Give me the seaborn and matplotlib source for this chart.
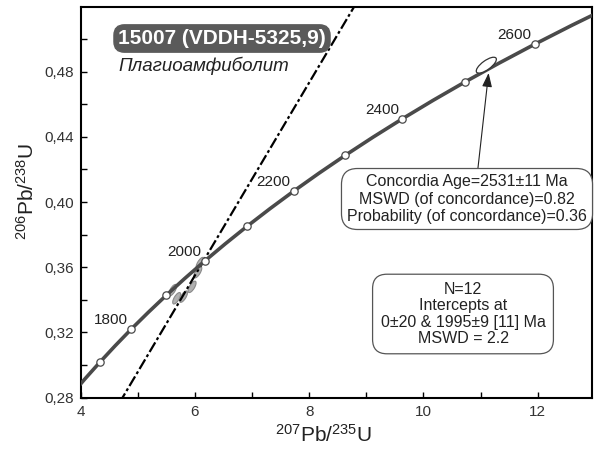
import numpy as np
import pandas as pd
import matplotlib
matplotlib.use("Agg")
import matplotlib.pyplot as plt
import seaborn as sns
from matplotlib.patches import Ellipse
from matplotlib.transforms import ScaledTranslation, IdentityTransform

# ---------------- data ----------------
# Concordia curve points (207Pb/235U, 206Pb/238U), every 50 Ma from 1600 to 2700 Ma
conc_x = [3.8346, 4.0784, 4.3348, 4.6040, 4.8869, 5.1840, 5.4962, 5.8241, 6.1685,
          6.5304, 6.9104, 7.3097, 7.7292, 8.1698, 8.6326, 9.1188, 9.6296, 10.1661,
          10.7297, 11.3218, 11.9437, 12.5971, 13.2834]
conc_y = [0.28172, 0.29170, 0.30174, 0.31189, 0.32213, 0.33240, 0.34277, 0.35323,
          0.36377, 0.37439, 0.38509, 0.39587, 0.40674, 0.41769, 0.42873, 0.43986,
          0.45107, 0.46237, 0.47375, 0.48523, 0.49679, 0.50845, 0.52020]

# Age markers on concordia
marker_age = [1700, 1800, 1900, 2000, 2100, 2200, 2300, 2400, 2500, 2600]
marker_x = [4.3348, 4.8869, 5.4962, 6.1685, 6.9104, 7.7292, 8.6326, 9.6296, 10.7297, 11.9437]
marker_y = [0.30174, 0.32213, 0.34277, 0.36377, 0.38509, 0.40674, 0.42873, 0.45107, 0.47375, 0.49679]
labelled_ages = [1800, 2000, 2200, 2400, 2600]

# Discordia line (lower intercept 0 Ma, upper intercept 1995 Ma)
disc_x = [4.5, 9.0]
disc_y = [0.2663, 0.5325]

# Analyses (error ellipses) near the upper intercept
ell_x = [6.09, 6.05, 5.95, 5.68, 5.61, 5.80]
ell_y = [0.3626, 0.3570, 0.3480, 0.3410, 0.3460, 0.3420]

# Concordia age ellipse
cage_x, cage_y = 11.10, 0.4840
arrow_from = (10.95, 0.4197)
arrow_to = (11.14, 0.4792)

xticks = [4, 6, 8, 10, 12]
xtick_labels = ["4", "6", "8", "10", "12"]
yticks = [0.28, 0.32, 0.36, 0.40, 0.44, 0.48]
ytick_labels = ["0,28", "0,32", "0,36", "0,40", "0,44", "0,48"]

title_text = "15007 (VDDH-5325,9)"
rock_text = "Плагиоамфиболит"
box1_text = "Concordia Age=2531\u00b111 Ma\nMSWD (of concordance)=0.82\nProbability (of concordance)=0.36"
box2_text = "N=12\nIntercepts at\n0\u00b120 & 1995\u00b19 [11] Ma\nMSWD = 2.2"

# ---------------- style ----------------
sns.set_theme(style="ticks")
plt.rcParams["font.family"] = ["Liberation Sans", "DejaVu Sans"]
plt.rcParams["mathtext.fontset"] = "custom"
plt.rcParams["mathtext.rm"] = "Liberation Sans"
plt.rcParams["mathtext.it"] = "Liberation Sans:italic"
plt.rcParams["mathtext.bf"] = "Liberation Sans:bold"

W, H = 599, 453
L, R, T, B = 80.7, 592.0, 7.3, 397.7
fig = plt.figure(figsize=(W / 100, H / 100), dpi=100)
ax = fig.add_axes([L / W, 1 - B / H, (R - L) / W, (B - T) / H])

def fx(px):
    return (px - L) / (R - L)

def fy(py):
    return (B - py) / (B - T)

# error ellipses (grey) in pixel units
for ex, ey in zip(ell_x, ell_y):
    tr = IdentityTransform() + ScaledTranslation(ex, ey, ax.transData)
    ax.add_patch(Ellipse((0, 0), 13, 5, angle=59, transform=tr,
                         facecolor="#b0b0b0", edgecolor="#8a8a8a", lw=0.8, zorder=1))

# concordia curve
sns.lineplot(x=conc_x, y=conc_y, sort=False, estimator=None, color="#4a4a4a",
             lw=2.6, ax=ax, zorder=3)
# discordia
sns.lineplot(x=disc_x, y=disc_y, sort=False, estimator=None, color="black",
             lw=1.6, ax=ax, zorder=2, dashes=False)
ax.lines[-1].set_dashes((5, 1.3, 1.3, 1.3))

# markers
sns.scatterplot(x=marker_x, y=marker_y, s=28, color="white", edgecolor="#4a4a4a",
                linewidth=0.9, ax=ax, zorder=4)

for a, mx, my in zip(marker_age, marker_x, marker_y):
    if a in labelled_ages:
        ax.annotate(str(a), (mx, my), xytext=(-20, 9), textcoords="offset pixels",
                    ha="center", va="center", fontsize=11, color="#222222", zorder=5)

# concordia age ellipse
tr = IdentityTransform() + ScaledTranslation(cage_x, cage_y, ax.transData)
ax.add_patch(Ellipse((0, 0), 24, 9, angle=36, transform=tr,
                     facecolor="white", edgecolor="#333333", lw=0.9, zorder=5))

# arrow
ax.annotate("", xy=arrow_to, xytext=arrow_from,
            arrowprops=dict(arrowstyle="-|>,head_length=0.7,head_width=0.25",
                            color="#222222", lw=0.8, shrinkA=0, shrinkB=0), zorder=6)

# axes
ax.set_xlim(4, 12.95)
ax.set_ylim(0.28, 0.5195)
ax.set_xticks(xticks)
ax.set_xticklabels(xtick_labels)
ax.set_xticks([5, 7, 9, 11], minor=True)
ax.set_yticks(yticks)
ax.set_yticklabels(ytick_labels)
ax.set_yticks([0.30, 0.34, 0.38, 0.42, 0.46, 0.50], minor=True)
ax.tick_params(which="both", direction="in", length=4, width=1, color="black",
               labelcolor="#333333", labelsize=11, pad=5)
for s in ax.spines.values():
    s.set_visible(True)
    s.set_linewidth(1.5)
    s.set_color("black")

ax.set_xlabel(r"$^{207}$Pb/$^{235}$U", fontsize=15, color="#222222")
ax.set_ylabel(r"$^{206}$Pb/$^{238}$U", fontsize=15, color="#222222")
ax.xaxis.set_label_coords(fx(324), fy(424))
ax.yaxis.set_label_coords(fx(38), fy(191))

# title box
ax.text(fx(222), fy(38.5), title_text, transform=ax.transAxes, ha="center", va="center",
        fontsize=15, fontweight="bold", color="white", zorder=7,
        bbox=dict(boxstyle="round,pad=0.2,rounding_size=0.5", facecolor="#5a5a5a",
                  edgecolor="#5a5a5a"))
ax.text(fx(203.5), fy(66), rock_text, transform=ax.transAxes, ha="center", va="center",
        fontsize=13.5, style="italic", color="#222222", zorder=7)

ax.text(fx(467), fy(199), box1_text, transform=ax.transAxes, ha="center", va="center",
        fontsize=11.5, color="#222222", linespacing=1.2, zorder=7,
        bbox=dict(boxstyle="round,pad=0.35,rounding_size=1.0", facecolor="white",
                  edgecolor="#555555", lw=0.9))
ax.text(fx(463), fy(314), box2_text, transform=ax.transAxes, ha="center", va="center",
        fontsize=11.5, color="#222222", linespacing=1.1, zorder=7,
        bbox=dict(boxstyle="round,pad=0.5,rounding_size=0.9", facecolor="white",
                  edgecolor="#555555", lw=0.9))

fig.savefig("out.png", dpi=100)
